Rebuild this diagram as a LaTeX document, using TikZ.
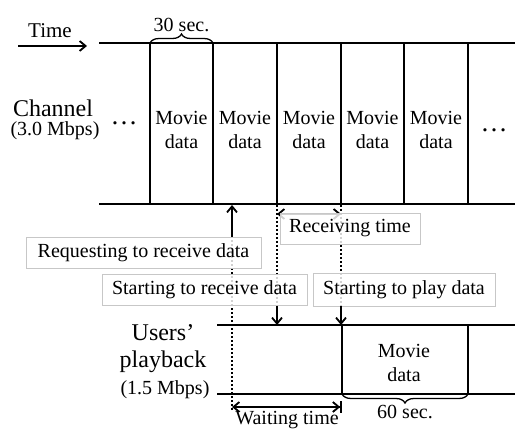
\documentclass[tikz,border=0pt]{standalone}
\usepackage{fontspec}
\setmainfont{Liberation Serif}
\usetikzlibrary{arrows.meta,decorations.pathreplacing}

\begin{document}
\begin{tikzpicture}[x=1pt,y=-1pt,
  track/.style={line width=2.2pt, line cap=rect},
  guide/.style={line width=2pt, dash pattern=on 2pt off 2pt},
  tipb/.tip={Straight Barb[length=6pt,width=10pt,line width=1.8pt]},
  barb/.style={line width=1.8pt, -tipb},
  span/.style={line width=1.8pt, tipb-tipb},
  brace/.style={line width=1.3pt, decorate, decoration={brace,amplitude=9pt}},
  txt/.style={inner sep=0pt, font=\fontsize{20}{24}\selectfont, align=center},
  big/.style={inner sep=0pt, font=\fontsize{24}{28}\selectfont, align=center},
  note/.style={draw=black!22, line width=0.8pt, fill=white, fill opacity=0.82,
    text opacity=1, inner sep=0pt, font=\fontsize{20}{24}\selectfont},
]
\useasboundingbox (0,0) rectangle (515,433);

% time axis
\coordinate (t0) at (18,46);
\coordinate (t1) at (87,46);
\draw[barb] (t0) -- (t1);
\node[txt, font=\fontsize{21}{24}\selectfont] (time) at (50,31) {Time};

% channel track
\coordinate (chTL) at (100,43);
\coordinate (chTR) at (515,43);
\coordinate (chBL) at (100,204);
\coordinate (chBR) at (515,204);
\draw[track] (chTL) -- (chTR);
\draw[track] (chBL) -- (chBR);
\foreach \x/\n in {150/a,213/b,277/c,341/d,404/e,468/f}{
  \coordinate (s\n) at (\x,43);
  \coordinate (b\n) at (\x,204);
  \draw[track] (s\n) -- (b\n);
}
\foreach \x in {181.5,245,309,372.5,436}{
  \node[txt] at (\x,129.5) {Movie\\data};
}
\node[big] (chan) at (53,108) {Channel};
\node[txt] (chrate) at (55,131) {(3.0 Mbps)};
\node[inner sep=0pt, font=\fontsize{27}{30}\selectfont] (dl) at (124,123) {…};
\node[inner sep=0pt, font=\fontsize{27}{30}\selectfont] (dr) at (494,130) {…};

% 30 s segment
\draw[brace] (sa) -- node[txt, above=11pt] (thirty) {30 sec.} (sb);

% playback track
\coordinate (pTL) at (218,325);
\coordinate (pTR) at (515,325);
\coordinate (pBL) at (218,394);
\coordinate (pBR) at (515,394);
\draw[track] (pTL) -- (pTR);
\draw[track] (pBL) -- (pBR);
\coordinate (pa) at (342,325);
\coordinate (pb) at (468,325);
\coordinate (qa) at (342,394);
\coordinate (qb) at (468,394);
\draw[track] (pa) -- (qa);
\draw[track] (pb) -- (qb);
\node[txt] (pmovie) at (404,363) {Movie\\data};
\draw[brace] (qb) -- node[txt, below=11pt] (sixty) {60 sec.} (qa);

\node[big] (users) at (163,333) {Users’};
\node[big] (play) at (163,362) {playback};
\node[txt] (prate) at (165,390) {(1.5 Mbps)};

% dotted guides
\coordinate (rq0) at (232,410);
\coordinate (rq1) at (232,237);
\coordinate (rqtop) at (232,205);
\draw[guide] (rq0) -- (rq1);
\coordinate (sr0) at (277,205);
\coordinate (sr1) at (277,306);
\draw[guide] (sr0) -- (sr1);
\coordinate (sp0) at (341,205);
\coordinate (sp1) at (341,306);
\draw[guide] (sp0) -- (sp1);

% receiving time
\coordinate (rt0) at (277,214);
\coordinate (rt1) at (341,214);
\draw[span] (rt0) -- (rt1);

% labels
\node[note, minimum width=235pt, minimum height=31pt] (req) at (143.5,252.5) {Requesting to receive data};
\node[note, minimum width=205pt, minimum height=31pt] (srx) at (204.5,289.5) {Starting to receive data};
\node[note, minimum width=140pt, minimum height=31pt] (rtime) at (350,228.5) {Receiving time};
\node[note, minimum width=182pt, minimum height=33pt] (spl) at (404,289.5) {Starting to play data};

% event arrows
\draw[barb] (rq1) -- (rqtop);
\draw[barb] (sr1) -- (sr1 |- pTL);
\draw[barb] (sp1) -- (sp1 |- pTL);

% waiting time, ending against a bar
\coordinate (w0) at (232,407);
\coordinate (w1) at (342,407);
\draw[line width=1.8pt, tipb-{tipb[sep=0pt]Bar[width=12pt,line width=1.8pt]}] (w0) -- (w1);
\node[txt] (wait) at (287,420) {Waiting time};

\end{tikzpicture}
\end{document}
